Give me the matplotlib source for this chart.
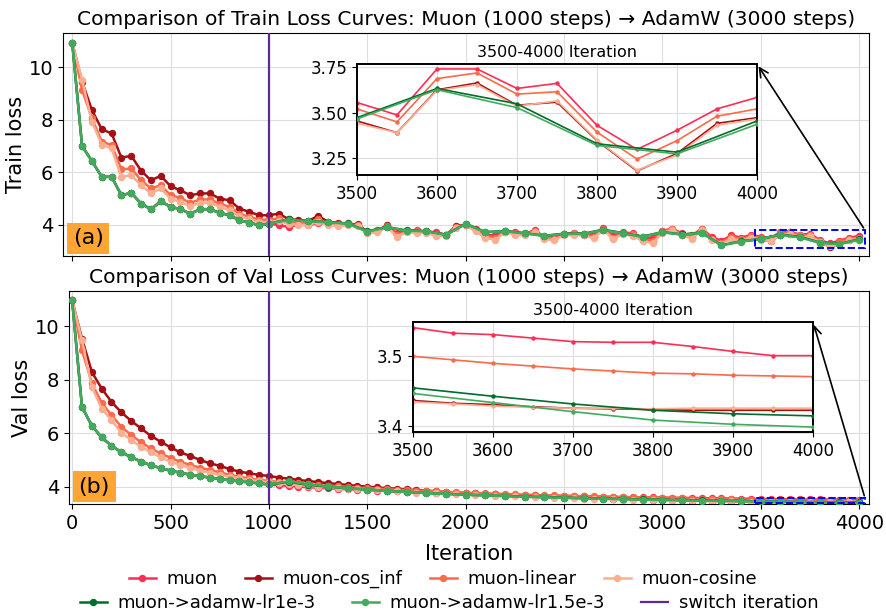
import numpy as np
import matplotlib
matplotlib.use("Agg")
import matplotlib.pyplot as plt
from matplotlib.patches import Rectangle
from matplotlib.ticker import FormatStrFormatter

# logged every 50 steps for the muon runs
steps = np.arange(0, 4001, 50)
# switched runs share the muon run up to 1000, then log every 100 steps
green_steps = list(range(0, 1001, 50)) + list(range(1100, 4001, 100))

train_muon = [10.92, 7.00, 6.43, 5.83, 5.83, 5.13, 5.22, 4.81, 4.60, 4.90, 4.69, 4.60, 4.43, 4.60, 4.60, 4.46, 4.37, 4.18, 4.09, 3.99, 4.05,
              4.00, 3.92, 4.02, 3.98, 4.08, 4.05, 4.00, 4.02, 3.98, 3.72, 3.80, 3.95, 3.68, 3.78, 3.80, 3.74, 3.72, 3.62, 3.92, 4.02,
              3.85, 3.62, 3.60, 3.78, 3.72, 3.66, 3.80, 3.55, 3.55, 3.66, 3.70, 3.66, 3.62, 3.90, 3.58, 3.72, 3.68, 3.52, 3.50, 3.78,
              3.86, 3.68, 3.60, 3.86, 3.55, 3.40, 3.60, 3.52, 3.62,
              3.555, 3.487, 3.739, 3.739, 3.632, 3.66, 3.43, 3.298, 3.403, 3.52, 3.583]
train_cos_inf = [10.92, 9.45, 8.37, 7.64, 7.48, 6.56, 6.63, 6.06, 5.70, 5.87, 5.47, 5.32, 5.13, 5.20, 5.20, 5.00, 4.94, 4.62, 4.50, 4.37, 4.37,
                 4.43, 4.22, 4.18, 4.15, 4.35, 4.12, 4.08, 4.05, 4.02, 3.75, 3.78, 3.98, 3.62, 3.76, 3.74, 3.76, 3.62, 3.62, 3.96, 4.00,
                 3.80, 3.55, 3.50, 3.74, 3.66, 3.64, 3.78, 3.50, 3.46, 3.64, 3.66, 3.62, 3.55, 3.84, 3.50, 3.68, 3.62, 3.44, 3.38, 3.74,
                 3.82, 3.62, 3.52, 3.82, 3.46, 3.30, 3.52, 3.42, 3.55,
                 3.454, 3.39, 3.625, 3.662, 3.54, 3.557, 3.346, 3.18, 3.276, 3.441, 3.472]
train_linear = [10.92, 9.14, 8.06, 7.17, 7.04, 6.11, 6.15, 5.70, 5.39, 5.51, 5.13, 5.03, 4.84, 4.97, 4.97, 4.81, 4.69, 4.43, 4.31, 4.20, 4.20,
                4.25, 4.10, 4.08, 4.06, 4.22, 4.06, 4.02, 4.02, 4.00, 3.72, 3.76, 3.96, 3.62, 3.76, 3.76, 3.74, 3.64, 3.62, 3.94, 4.00,
                3.82, 3.58, 3.52, 3.76, 3.68, 3.64, 3.78, 3.52, 3.48, 3.64, 3.68, 3.64, 3.56, 3.86, 3.52, 3.70, 3.64, 3.46, 3.40, 3.76,
                3.84, 3.64, 3.54, 3.84, 3.48, 3.33, 3.55, 3.45, 3.58,
                3.52, 3.449, 3.686, 3.717, 3.601, 3.614, 3.393, 3.245, 3.346, 3.48, 3.52]
train_cosine = [10.92, 9.52, 7.93, 7.06, 6.91, 5.83, 5.89, 5.51, 5.20, 5.39, 5.00, 4.88, 4.71, 4.85, 4.85, 4.69, 4.56, 4.33, 4.22, 4.11, 4.11,
                4.15, 4.04, 4.00, 4.00, 4.12, 4.00, 3.96, 3.98, 3.95, 3.68, 3.72, 3.92, 3.56, 3.72, 3.70, 3.70, 3.58, 3.58, 3.90, 3.98,
                3.78, 3.50, 3.44, 3.72, 3.62, 3.60, 3.74, 3.46, 3.42, 3.60, 3.62, 3.60, 3.50, 3.82, 3.46, 3.66, 3.58, 3.40, 3.30, 3.70,
                3.80, 3.60, 3.48, 3.80, 3.42, 3.28, 3.48, 3.40, 3.52,
                3.441, 3.39, 3.621, 3.653, 3.535, 3.564, 3.35, 3.184, 3.267, 3.43, 3.465]
train_adamw_1e3_after = [4.21, 4.15, 4.11, 4.06, 3.76, 3.92, 3.79, 3.77, 3.63, 4.05, 3.73, 3.77, 3.69, 3.59, 3.67, 3.67, 3.82, 3.69,
                         3.56, 3.73, 3.64, 3.71, 3.23, 3.38, 3.472, 3.632, 3.548, 3.329, 3.283, 3.454]
train_adamw_15e3_after = [4.20, 4.14, 4.10, 4.05, 3.75, 3.91, 3.78, 3.76, 3.62, 4.04, 3.72, 3.76, 3.68, 3.58, 3.66, 3.66, 3.81, 3.68,
                          3.55, 3.72, 3.63, 3.70, 3.22, 3.37, 3.465, 3.625, 3.527, 3.32, 3.274, 3.436]

val_muon = [10.97, 6.98, 6.28, 5.84, 5.53, 5.29, 5.10, 4.94, 4.80, 4.69, 4.60, 4.52, 4.45, 4.39, 4.34, 4.29, 4.24, 4.20, 4.16, 4.12, 4.08,
            4.05, 4.03, 4.00, 3.98, 3.96, 3.94, 3.92, 3.90, 3.885, 3.87, 3.855, 3.84, 3.825, 3.81, 3.80, 3.785, 3.775, 3.76, 3.75, 3.74,
            3.73, 3.72, 3.71, 3.70, 3.69, 3.68, 3.672, 3.665, 3.657, 3.65, 3.643, 3.636, 3.63, 3.624, 3.618, 3.612, 3.606, 3.60, 3.595, 3.59,
            3.585, 3.58, 3.575, 3.57, 3.565, 3.56, 3.555, 3.55, 3.545,
            3.54, 3.532, 3.530, 3.525, 3.520, 3.519, 3.519, 3.513, 3.506, 3.500, 3.500]
val_cos_inf = [10.97, 9.54, 8.29, 7.67, 7.17, 6.78, 6.46, 6.18, 5.90, 5.68, 5.47, 5.28, 5.15, 5.00, 4.87, 4.78, 4.66, 4.56, 4.50, 4.44, 4.40,
               4.34, 4.30, 4.25, 4.21, 4.17, 4.13, 4.10, 4.06, 4.03, 4.00, 3.97, 3.945, 3.92, 3.895, 3.87, 3.85, 3.83, 3.80, 3.78, 3.76,
               3.745, 3.73, 3.71, 3.695, 3.68, 3.665, 3.65, 3.635, 3.62, 3.61, 3.60, 3.585, 3.572, 3.56, 3.55, 3.54, 3.53, 3.52, 3.51, 3.50,
               3.493, 3.486, 3.479, 3.472, 3.465, 3.459, 3.453, 3.447, 3.441,
               3.436, 3.432, 3.430, 3.427, 3.425, 3.424, 3.423, 3.422, 3.422, 3.422, 3.422]
val_linear = [10.97, 9.10, 7.88, 7.13, 6.68, 6.24, 5.93, 5.66, 5.43, 5.24, 5.08, 4.93, 4.81, 4.71, 4.62, 4.54, 4.44, 4.37, 4.31, 4.25, 4.22,
              4.18, 4.15, 4.12, 4.09, 4.06, 4.035, 4.01, 3.99, 3.965, 3.945, 3.925, 3.905, 3.885, 3.87, 3.85, 3.835, 3.82, 3.805, 3.79, 3.775,
              3.762, 3.75, 3.737, 3.725, 3.713, 3.70, 3.69, 3.68, 3.67, 3.66, 3.65, 3.64, 3.632, 3.624, 3.615, 3.607, 3.60, 3.592, 3.585, 3.578,
              3.57, 3.562, 3.555, 3.547, 3.54, 3.532, 3.523, 3.515, 3.507,
              3.499, 3.494, 3.489, 3.485, 3.481, 3.478, 3.475, 3.474, 3.472, 3.471, 3.470]
val_cosine = [10.97, 9.48, 7.73, 6.92, 6.49, 6.02, 5.74, 5.49, 5.28, 5.10, 4.93, 4.81, 4.71, 4.60, 4.52, 4.44, 4.37, 4.31, 4.25, 4.20, 4.16,
              4.12, 4.09, 4.06, 4.03, 4.00, 3.975, 3.95, 3.925, 3.90, 3.88, 3.86, 3.84, 3.82, 3.80, 3.78, 3.765, 3.75, 3.735, 3.72, 3.705,
              3.69, 3.676, 3.662, 3.648, 3.635, 3.622, 3.61, 3.598, 3.586, 3.575, 3.564, 3.554, 3.544, 3.535, 3.526, 3.517, 3.509, 3.501, 3.494, 3.487,
              3.48, 3.473, 3.467, 3.461, 3.455, 3.45, 3.445, 3.44, 3.437,
              3.434, 3.431, 3.428, 3.426, 3.425, 3.425, 3.424, 3.425, 3.425, 3.425, 3.425]
val_adamw_1e3_after = [4.18, 4.07, 4.00, 3.94, 3.89, 3.84, 3.80, 3.76, 3.73, 3.70, 3.675, 3.65, 3.63, 3.61, 3.59, 3.57, 3.555, 3.54,
                       3.525, 3.512, 3.50, 3.488, 3.476, 3.465, 3.454, 3.442, 3.431, 3.422, 3.417, 3.414]
val_adamw_15e3_after = [4.20, 4.09, 4.01, 3.94, 3.89, 3.84, 3.80, 3.76, 3.725, 3.695, 3.67, 3.645, 3.622, 3.60, 3.58, 3.562, 3.545, 3.53,
                        3.515, 3.50, 3.488, 3.477, 3.466, 3.456, 3.446, 3.433, 3.420, 3.408, 3.402, 3.398]

labels = ["muon", "muon-cos_inf", "muon-linear", "muon-cosine",
          "muon->adamw-lr1e-3", "muon->adamw-lr1.5e-3"]
colors = ["#ff2d55", "#a50f15", "#fb6a4a", "#fcae91", "#006d2c", "#41ab5d"]
switch_step = 1000

W, H = 886, 612
fig = plt.figure(figsize=(W / 100, H / 100), dpi=100)


def px_axes(l, t, r, b):
    return fig.add_axes([l / W, 1 - b / H, (r - l) / W, (b - t) / H])


def draw_series(ax, muon_runs, green_runs, ms, lw):
    handles = []
    for vals, c, lab in zip(muon_runs, colors[:4], labels[:4]):
        h, = ax.plot(steps, vals, "-o", color=c, ms=ms, lw=lw, label=lab)
        handles.append(h)
    for vals, c, lab in zip(green_runs, colors[4:], labels[4:]):
        h, = ax.plot(green_steps, vals, "-o", color=c, ms=ms, lw=lw, label=lab, zorder=3)
        handles.append(h)
    return handles


def panel(ax, muon_runs, green_runs, title, ylabel, xlim_left, ylim, tag,
          inset_box, inset_ylim, inset_ticks, inset_fmt, rect_y):
    handles = draw_series(ax, muon_runs, green_runs, ms=4.3, lw=1.8)
    sw = ax.axvline(switch_step, color="#5b2a96", lw=1.6, label="switch iteration", zorder=4)
    handles.append(sw)
    ax.set_xlim(xlim_left, 4050)
    ax.set_ylim(*ylim)
    ax.set_xticks(range(0, 4001, 500))
    ax.set_yticks([4, 6, 8, 10])
    ax.grid(True, color="#dddddd", lw=0.8)
    ax.tick_params(labelsize=14)
    ax.set_title(title, fontsize=14.6)
    ax.set_ylabel(ylabel, fontsize=15, labelpad=2)
    ax.text(0.012, 0.035, tag, transform=ax.transAxes, fontsize=16, va="bottom", ha="left",
            bbox=dict(facecolor="#ffa533", edgecolor="none", boxstyle="square,pad=0.25"), zorder=6)

    # zoomed view of the last 500 iterations
    axins = px_axes(*inset_box)
    draw_series(axins, muon_runs, green_runs, ms=2.2, lw=1.2)
    axins.set_xlim(3500, 4000)
    axins.set_ylim(*inset_ylim)
    axins.set_xticks(range(3500, 4001, 100))
    axins.set_yticks(inset_ticks)
    axins.yaxis.set_major_formatter(FormatStrFormatter(inset_fmt))
    axins.grid(True, color="#dddddd", lw=0.8)
    axins.tick_params(labelsize=12)
    axins.set_title("3500-4000 Iteration", fontsize=11.5, pad=5)
    for s in axins.spines.values():
        s.set_linewidth(1.4)

    ax.add_patch(Rectangle((3470, rect_y[0]), 560, rect_y[1] - rect_y[0], fill=False,
                           edgecolor="#0000ff", ls="--", lw=1.4, zorder=5))
    ax.annotate("", xy=(1.0, 1.0), xycoords=axins.transAxes,
                xytext=(4030, rect_y[1]), textcoords="data",
                arrowprops=dict(arrowstyle="->", color="black", lw=1.2, mutation_scale=16))
    return handles


ax1 = px_axes(63, 33, 869, 256)
ax2 = px_axes(69, 291, 869, 504)

handles = panel(ax1, [train_muon, train_cos_inf, train_linear, train_cosine],
                [train_muon[:21] + train_adamw_1e3_after, train_muon[:21] + train_adamw_15e3_after],
                "Comparison of Train Loss Curves: Muon (1000 steps) \u2192 AdamW (3000 steps)",
                "Train loss", -47, (2.82, 11.3), "(a)",
                (357, 64, 757, 175), (3.158, 3.766), [3.25, 3.5, 3.75], "%.2f", (3.12, 3.80))
ax1.tick_params(labelbottom=False)

panel(ax2, [val_muon, val_cos_inf, val_linear, val_cosine],
      [val_muon[:21] + val_adamw_1e3_after, val_muon[:21] + val_adamw_15e3_after],
      "Comparison of Val Loss Curves: Muon (1000 steps) \u2192 AdamW (3000 steps)",
      "Val loss", -16, (3.35, 11.32), "(b)",
      (413, 322, 813, 432), (3.391, 3.548), [3.4, 3.5], "%.1f", (3.38, 3.56))
ax2.set_xlabel("Iteration", fontsize=15, labelpad=8)

fig.legend(handles[:4], labels[:4], loc="center", bbox_to_anchor=(0.5, 1 - 579 / H), ncol=4,
           frameon=False, fontsize=13, handlelength=1.5, columnspacing=1.5,
           borderpad=0, handletextpad=0.6)
fig.legend(handles[4:], labels[4:] + ["switch iteration"], loc="center",
           bbox_to_anchor=(0.507, 1 - 603 / H), ncol=3,
           frameon=False, fontsize=13, handlelength=1.5, columnspacing=2.0,
           borderpad=0, handletextpad=0.6)

fig.savefig("out.png", dpi=100)
